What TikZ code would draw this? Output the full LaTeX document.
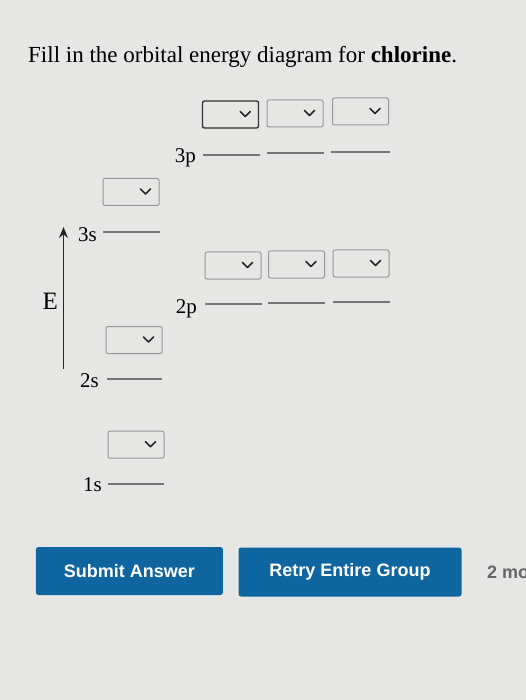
\documentclass[tikz,border=0pt]{standalone}
\usepackage{fontspec}
\setmainfont{Liberation Serif}
\newfontfamily\btnfont{Liberation Sans}
\usetikzlibrary{arrows.meta}
\definecolor{pagebg}{RGB}{230,231,228}
\definecolor{btnblue}{RGB}{14,101,160}
\definecolor{lvlgray}{RGB}{118,118,118}
\definecolor{boxgray}{RGB}{150,150,150}
\tikzset{
  ddbox/.style={draw=boxgray, line width=1pt, rounded corners=2pt, minimum width=56pt, minimum height=27pt, inner sep=0pt},
  chev/.style={draw=black!85, line width=1.6pt, line cap=round, line join=round},
  lvl/.style={draw=lvlgray, line width=2pt},
  orb/.style={font=\fontsize{21}{24}\selectfont, inner sep=0pt},
  btn/.style={fill=btnblue, rounded corners=2.5pt, text=white, inner sep=0pt, font=\btnfont\bfseries\fontsize{18}{20}\selectfont}
}
\newcommand{\chevron}[1]{\draw[chev] ([xshift=-19pt,yshift=3pt]#1.east) -- ++(5,5) -- ++(5,-5);}
\begin{document}
\begin{tikzpicture}[x=1pt,y=-1pt]
\useasboundingbox (0,0) rectangle (526,700);
\clip (0,0) rectangle (526,700);
\fill[pagebg] (0,0) rectangle (526,700);
\node[anchor=base west, inner sep=0pt, font=\fontsize{23}{28}\selectfont] (title) at (28,62.7) {Fill in the orbital energy diagram for \textbf{chlorine}.};

\node[ddbox, draw=black!80, line width=1.4pt] (p3a) at (230.5,114.5) {};
\node[ddbox] (p3b) at (295,113.5) {};
\node[ddbox] (p3c) at (360.5,111.5) {};
\chevron{p3a}
\chevron{p3b}
\chevron{p3c}
\draw[lvl] (203,155) -- (260,155);
\draw[lvl] (267,153.5) -- (324,153.5);
\draw[lvl] (331,152) -- (390,152);
\node[orb, anchor=base east] (l3p) at (196,162.5) {3p};

\node[ddbox] (s3) at (131,192) {};
\chevron{s3}
\draw[lvl] (103,232) -- (160,232);
\node[orb, anchor=base east] (l3s) at (97,241) {3s};

\node[ddbox] (p2a) at (233,265.5) {};
\node[ddbox] (p2b) at (296.5,264.5) {};
\node[ddbox] (p2c) at (361,263.5) {};
\chevron{p2a}
\chevron{p2b}
\chevron{p2c}
\draw[lvl] (205,304) -- (261.5,304);
\draw[lvl] (268,303) -- (325,303);
\draw[lvl] (333,302) -- (390,302);
\node[orb, anchor=base east] (l2p) at (197,313.3) {2p};

\coordinate (ebot) at (63.5,369);
\coordinate (etop) at (63.5,227);
\draw[line width=1.5pt, draw=black!85, -{Stealth[length=11pt,width=9pt]}] (ebot) -- (etop);
\node[anchor=base, inner sep=0pt, font=\fontsize{25}{28}\selectfont] (elbl) at (50.3,309.3) {E};

\node[ddbox] (s2) at (134,340) {};
\chevron{s2}
\draw[lvl] (107,379) -- (162,379);
\node[orb, anchor=base east] (l2s) at (99,387) {2s};

\node[ddbox] (s1) at (136,444.7) {};
\chevron{s1}
\draw[lvl] (108,483.5) -- (164,483.5);
\node[orb, anchor=base east] (l1s) at (102,491) {1s};

\node[btn, minimum width=187pt, minimum height=48pt] (submit) at (129.4,571) {Submit Answer};
\node[btn, minimum width=223pt, minimum height=49pt] (retry) at (350,572) {Retry Entire Group};
\node[anchor=base west, inner sep=0pt, text=black!60, font=\btnfont\bfseries\fontsize{18}{20}\selectfont] (more) at (487,578) {2 mo};
\end{tikzpicture}
\end{document}
